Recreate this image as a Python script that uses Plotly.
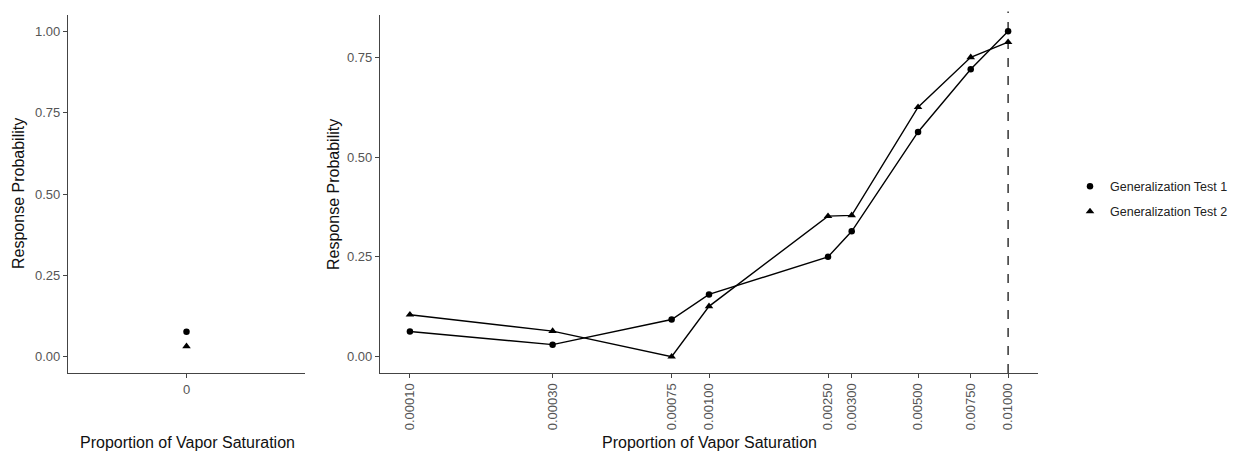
import plotly.graph_objects as go

# Control condition (no vapor)
control_x = [0]
control_test1 = [0.077]
control_test2 = [0.032]

# Vapor saturation levels and response probabilities
concentration = [0.0001, 0.0003, 0.00075, 0.001, 0.0025, 0.003, 0.005, 0.0075, 0.01]
test1 = [0.063, 0.030, 0.093, 0.156, 0.250, 0.314, 0.563, 0.720, 0.815]
test2 = [0.105, 0.064, 0.000, 0.126, 0.352, 0.354, 0.625, 0.750, 0.788]
tick_labels = ["0.00010", "0.00030", "0.00075", "0.00100", "0.00250",
               "0.00300", "0.00500", "0.00750", "0.01000"]
series_names = ["Generalization Test 1", "Generalization Test 2"]
training_level = 0.01

W, H = 1239, 452
FONT = "Liberation Sans, Arial, sans-serif"
TICK_COLOR = "#555555"

def px_x(p):
    return p / W

def px_y(p):
    return 1 - p / H

fig = go.Figure()

# Left panel: control points (these carry the legend)
fig.add_trace(go.Scatter(x=control_x, y=control_test1, mode="markers",
                         marker=dict(symbol="circle", size=6.5, color="black"),
                         name=series_names[0], xaxis="x", yaxis="y",
                         legendgroup="a"))
fig.add_trace(go.Scatter(x=control_x, y=control_test2, mode="markers",
                         marker=dict(symbol="triangle-up", size=7.5, color="black"),
                         name=series_names[1], xaxis="x", yaxis="y",
                         legendgroup="b"))

# Right panel: dose-response curves
fig.add_trace(go.Scatter(x=concentration, y=test1, mode="lines+markers",
                         line=dict(color="black", width=1.4),
                         marker=dict(symbol="circle", size=6.5, color="black"),
                         name=series_names[0], showlegend=False,
                         xaxis="x2", yaxis="y2"))
fig.add_trace(go.Scatter(x=concentration, y=test2, mode="lines+markers",
                         line=dict(color="black", width=1.4),
                         marker=dict(symbol="triangle-up", size=7.5, color="black"),
                         name=series_names[1], showlegend=False,
                         xaxis="x2", yaxis="y2"))

# Training concentration marker
fig.add_shape(type="line", x0=training_level, x1=training_level,
              xref="x2", yref="y2 domain", y0=0, y1=1.01,
              line=dict(color="black", width=1.2, dash="dash"))

ydom = [1 - 373 / H, 1 - 15 / H]
axis_common = dict(showline=True, linecolor="#444444", linewidth=1.3,
                   ticks="outside", ticklen=4, tickcolor="#444444", tickwidth=1,
                   showgrid=False, zeroline=False,
                   tickfont=dict(family=FONT, size=13, color=TICK_COLOR))

fig.update_layout(
    width=W, height=H,
    margin=dict(l=0, r=0, t=0, b=0),
    paper_bgcolor="white", plot_bgcolor="white",
    xaxis=dict(domain=[px_x(68), px_x(305)], range=[-1, 1],
               tickvals=control_x, ticktext=["0"], anchor="y", **axis_common),
    yaxis=dict(domain=ydom, range=[-0.05, 1.05],
               tickvals=[0, 0.25, 0.5, 0.75, 1.0],
               ticktext=["0.00", "0.25", "0.50", "0.75", "1.00"],
               anchor="x", **axis_common),
    xaxis2=dict(domain=[px_x(380), px_x(1038)], type="log", range=[-4.1, -1.9],
                tickvals=concentration, ticktext=tick_labels, tickangle=-90,
                anchor="y2", **axis_common),
    yaxis2=dict(domain=ydom, range=[-0.041, 0.856],
                tickvals=[0, 0.25, 0.5, 0.75],
                ticktext=["0.00", "0.25", "0.50", "0.75"],
                anchor="x2", **axis_common),
    legend=dict(x=px_x(1070), y=px_y(199), xanchor="left", yanchor="middle",
                traceorder="grouped", tracegroupgap=6,
                font=dict(family=FONT, size=12.5, color="#222222"),
                bgcolor="rgba(0,0,0,0)"),
    showlegend=True,
)

title_font = dict(family=FONT, size=16, color="#111111")
annotations = [
    dict(text="Response Probability", x=px_x(18), y=px_y(194), textangle=-90),
    dict(text="Response Probability", x=px_x(333), y=px_y(194), textangle=-90),
    dict(text="Proportion of Vapor Saturation", x=px_x(187), y=px_y(442)),
    dict(text="Proportion of Vapor Saturation", x=px_x(709), y=px_y(442)),
]
for a in annotations:
    fig.add_annotation(xref="paper", yref="paper", showarrow=False,
                       xanchor="center", yanchor="middle", font=title_font, **a)

fig.write_html("out.html")
